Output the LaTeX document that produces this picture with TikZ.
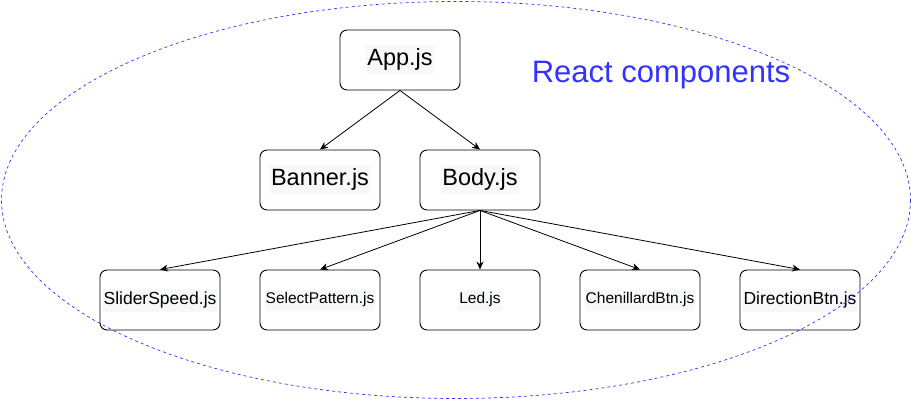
\documentclass[tikz,border=0pt]{standalone}
\usepackage{fontspec}
\setmainfont{Liberation Sans}
\usepackage{tikz}
\usetikzlibrary{arrows.meta}

\definecolor{txtbg}{RGB}{247,248,250}
\definecolor{reactblue}{RGB}{51,51,255}
\newcommand{\hltext}[1]{{\setlength{\fboxsep}{1pt}\colorbox{txtbg}{\strut #1}}}

\tikzset{
    comp/.style={draw=black, line width=0.9pt, rounded corners=7pt,
        minimum width=120pt, minimum height=60pt, inner sep=0pt, text=black},
    bigtxt/.style={font=\fontsize{23.5}{27}\selectfont},
    midtxt/.style={font=\fontsize{17.5}{21}\selectfont},
    smalltxt/.style={font=\fontsize{15.5}{19}\selectfont},
    link/.style={draw=black, line width=0.8pt, -{Stealth[length=8pt,width=7pt,inset=2.5pt]}}
}

\begin{document}
\begin{tikzpicture}[x=1pt,y=-1pt]
                \useasboundingbox (0,0) rectangle (911,401);

                \node[text=reactblue, font=\fontsize{31}{36}\selectfont] (title) at (661,75) {React components};

                \node[comp, bigtxt] (app) at (400,60) {\hltext{App.js}};
                \node[comp, bigtxt] (banner) at (320,180) {\hltext{Banner.js}};
                \node[comp, bigtxt] (body) at (480,180) {\hltext{Body.js}};

                \node[comp, midtxt] (slider) at (160,300) {\hltext{SliderSpeed.js}};
                \node[comp, smalltxt] (select) at (320,300) {\hltext{SelectPattern.js}};
                \node[comp, smalltxt] (led) at (480,300) {\hltext{Led.js}};
                \node[comp, smalltxt] (chenillard) at (640,300) {\hltext{ChenillardBtn.js}};
                \node[comp, midtxt] (direction) at (800,300) {\hltext{DirectionBtn.js}};

                \draw[link] (app.south) -- (banner.north);
                \draw[link] (app.south) -- (body.north);

                \foreach \target in {slider, select, led, chenillard, direction}
                    \draw[link] (body.south) -- (\target.north);

                \draw[reactblue, line width=0.7pt, dash pattern=on 3pt off 3pt] (456,200) ellipse (454.5 and 198.5);
            \end{tikzpicture}
\end{document}
